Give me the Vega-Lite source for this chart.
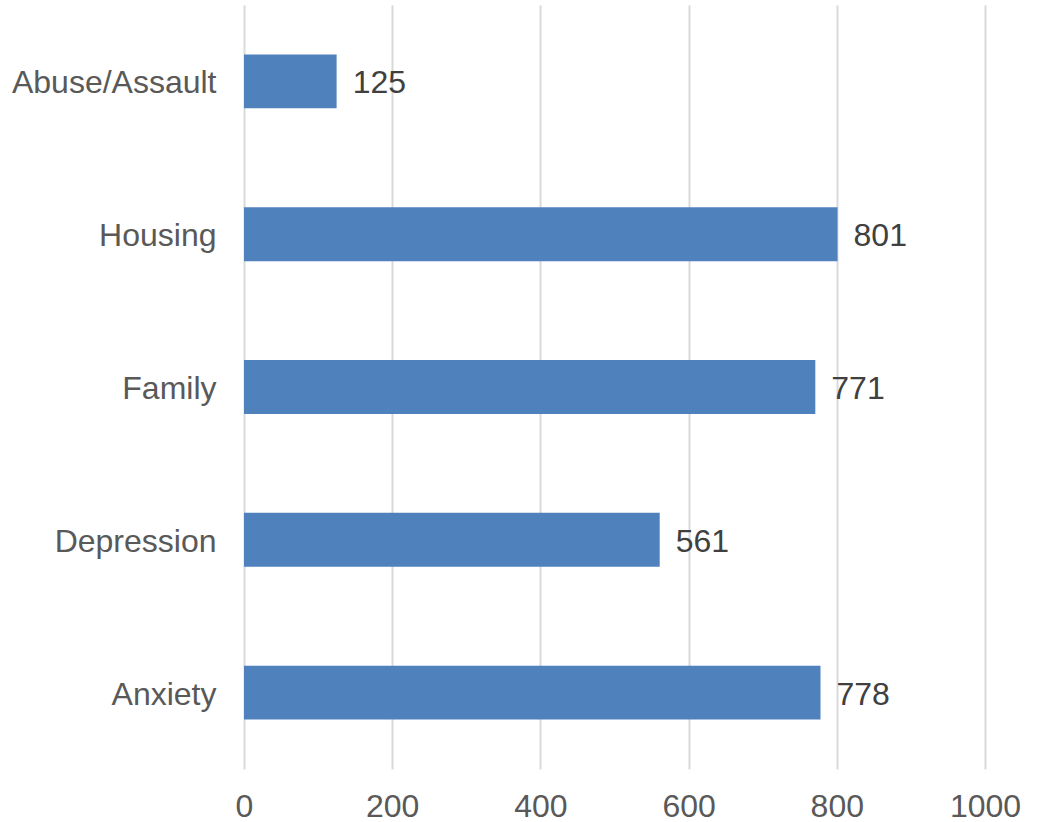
{
  "$schema": "https://vega.github.io/schema/vega-lite/v6.json",
  "width": 741,
  "height": 764,
  "autosize": {"type": "none"},
  "padding": {"left": 244, "top": 5, "right": 52, "bottom": 53},
  "background": "white",
  "config": {"view": {"stroke": null}, "font": "Liberation Sans"},
  "data": {"values": [
    {"category": "Abuse/Assault", "value": 125},
    {"category": "Housing", "value": 801},
    {"category": "Family", "value": 771},
    {"category": "Depression", "value": 561},
    {"category": "Anxiety", "value": 778}
  ]},
  "encoding": {
    "y": {"field": "category", "type": "nominal", "sort": null,
      "scale": {"paddingInner": 0.647, "paddingOuter": 0.3235},
      "axis": {"title": null, "domain": false, "ticks": false, "grid": false, "labelFontSize": 32, "labelColor": "#595959", "labelPadding": 28, "labelOffset": 2, "labelLimit": 400, "labelFont": "Liberation Sans"}},
    "x": {"field": "value", "type": "quantitative",
      "scale": {"domain": [0, 1000], "nice": false},
      "axis": {"title": null, "domain": false, "ticks": false, "grid": true, "gridColor": "#D9D9D9", "gridWidth": 2, "values": [0, 200, 400, 600, 800, 1000], "format": "d", "labelFontSize": 32, "labelColor": "#595959", "labelPadding": 22, "labelFont": "Liberation Sans", "labelFlush": false}}
  },
  "layer": [
    {"mark": {"type": "bar", "color": "#4F81BD"}},
    {"mark": {"type": "text", "align": "left", "baseline": "middle", "dx": 16, "dy": 2, "fontSize": 32, "color": "#404040", "font": "Liberation Sans"},
     "encoding": {"text": {"field": "value", "type": "quantitative"}}}
  ]
}
